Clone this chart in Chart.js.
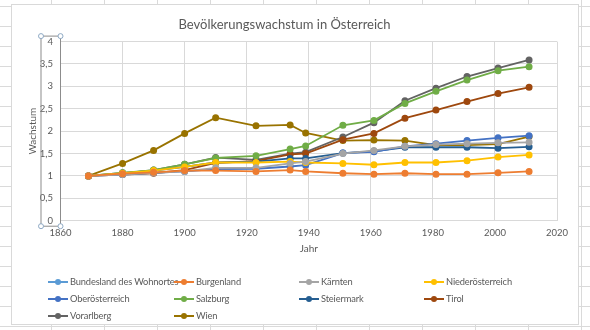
<!DOCTYPE html>
<html lang="de">
<head>
<meta charset="utf-8">
<title>Bevölkerungswachstum in Österreich</title>
<script src="https://cdn.jsdelivr.net/npm/chart.js@4.4.1/dist/chart.umd.min.js"></script>
<style>
    body {
        margin: 0;
        width: 590px;
        height: 330px;
        overflow: hidden;
        background-color: #ffffff;
        background-image: linear-gradient(#dadada 1px, transparent 1px), linear-gradient(90deg, #dadada 1px, transparent 1px);
        background-size: 53px 20px;
        background-position: -2px 6px;
        font-family: Lato, "Open Sans", sans-serif;
    }
    #chartBox {
        position: absolute;
        left: 12px;
        top: 5px;
        width: 566px;
        height: 319px;
        background: #ffffff;
        outline: 1px solid #d9d9d9;
    }
    #chartBox canvas {
        position: absolute;
        left: 0;
        top: 0;
    }
    #legende {
        position: absolute;
        left: 36px;
        top: 268px;
        display: grid;
        grid-template-columns: 126px 125px 125px 125px;
        grid-auto-rows: 17px;
        font-size: 9.3px;
        letter-spacing: -0.15px;
        color: #595959;
    }
    .item {
        display: flex;
        align-items: center;
        white-space: nowrap;
    }
    .swatch {
        position: relative;
        width: 20px;
        height: 2px;
        margin-right: 2px;
        flex: none;
    }
    .swatch span {
        position: absolute;
        left: 7px;
        top: -2px;
        width: 6px;
        height: 6px;
        border-radius: 50%;
    }
</style>
</head>
<body>
<div id="chartBox">
    <canvas id="graficaWachstum" width="566" height="319"></canvas>
    <div id="legende"></div>
</div>
<script>
const jahre = [1869, 1880, 1890, 1900, 1910, 1923, 1934, 1939, 1951, 1961, 1971, 1981, 1991, 2001, 2011];

const bundeslandDesWohnortes = [];
const burgenland = [1, 1.05, 1.08, 1.12, 1.12, 1.10, 1.13, 1.10, 1.06, 1.04, 1.06, 1.04, 1.04, 1.07, 1.10];
const kaernten = [1, 1.03, 1.07, 1.10, 1.18, 1.18, 1.28, 1.32, 1.50, 1.57, 1.66, 1.70, 1.72, 1.74, 1.75];
const niederoesterreich = [1, 1.06, 1.12, 1.20, 1.30, 1.30, 1.32, 1.30, 1.28, 1.25, 1.30, 1.30, 1.34, 1.42, 1.47];
const oberoesterreich = [1, 1.03, 1.07, 1.10, 1.15, 1.16, 1.21, 1.24, 1.51, 1.54, 1.66, 1.72, 1.79, 1.85, 1.90];
const salzburg = [1, 1.07, 1.13, 1.26, 1.40, 1.45, 1.60, 1.67, 2.13, 2.24, 2.62, 2.89, 3.14, 3.35, 3.44];
const steiermark = [1, 1.07, 1.12, 1.20, 1.30, 1.32, 1.39, 1.39, 1.51, 1.55, 1.64, 1.64, 1.64, 1.62, 1.65];
const tirol = [1, 1.03, 1.06, 1.13, 1.29, 1.33, 1.48, 1.50, 1.81, 1.95, 2.29, 2.47, 2.66, 2.84, 2.98];
const vorarlberg = [1, 1.05, 1.13, 1.26, 1.41, 1.36, 1.50, 1.53, 1.87, 2.19, 2.68, 2.96, 3.22, 3.41, 3.59];
const wien = [1, 1.28, 1.57, 1.95, 2.30, 2.12, 2.14, 1.96, 1.79, 1.80, 1.79, 1.69, 1.69, 1.71, 1.88];

const serien = [
    ["Bundesland des Wohnortes", bundeslandDesWohnortes, "#5b9bd5"],
    ["Burgenland", burgenland, "#ed7d31"],
    ["Kärnten", kaernten, "#a5a5a5"],
    ["Niederösterreich", niederoesterreich, "#ffc000"],
    ["Oberösterreich", oberoesterreich, "#4472c4"],
    ["Salzburg", salzburg, "#70ad47"],
    ["Steiermark", steiermark, "#255e91"],
    ["Tirol", tirol, "#9e480e"],
    ["Vorarlberg", vorarlberg, "#636363"],
    ["Wien", wien, "#997300"],
];

const xTicks = [1860, 1880, 1900, 1920, 1940, 1960, 1980, 2000, 2020];

const grau = "#595959";
const gitter = "#d9d9d9";

// markiert die ausgewählte Y-Achse wie in Excel
const achsenAuswahl = {
    id: "achsenAuswahl",
    afterDraw(chart) {
        const ctx = chart.ctx;
        const a = chart.chartArea;
        const l = a.left - 19.5, r = a.left, t = a.top - 5.5, b = a.bottom + 5.5;
        ctx.save();
        ctx.strokeStyle = "#8c8c8c";
        ctx.lineWidth = 1;
        ctx.strokeRect(l, t, r - l, b - t);
        [[l, t], [r, t], [l, b], [r, b]].forEach(([x, y]) => {
            ctx.beginPath();
            ctx.arc(x, y, 2.5, 0, Math.PI * 2);
            ctx.fillStyle = "#ffffff";
            ctx.fill();
            ctx.strokeStyle = "#8ea9c4";
            ctx.stroke();
        });
        ctx.restore();
    },
};

document.addEventListener("DOMContentLoaded", function () {
    const datasets = serien.map(([name, werte, farbe]) => ({
        label: name,
        data: werte.map((v, i) => ({x: jahre[i], y: v})),
        borderColor: farbe,
        backgroundColor: farbe,
        borderWidth: 1.8,
        pointRadius: 2.6,
        pointHoverRadius: 2.6,
        showLine: true,
    }));

    const config = {
        type: "scatter",
        data: {datasets: datasets},
        options: {
            responsive: false,
            animation: false,
            layout: {
                padding: {left: 0, right: 21, top: 0, bottom: 69},
            },
            plugins: {
                legend: {display: false},
                tooltip: {enabled: false},
                title: {
                    display: true,
                    text: "Bevölkerungswachstum in Österreich",
                    color: grau,
                    font: {size: 13, weight: "normal", family: "Lato, 'Open Sans', sans-serif", lineHeight: 1.2},
                    padding: {top: 12, bottom: 9},
                },
            },
            scales: {
                x: {
                    type: "linear",
                    min: 1860,
                    max: 2020,
                    afterBuildTicks: (scale) => {
                        scale.ticks = xTicks.map((v) => ({value: v}));
                    },
                    afterFit: (scale) => {
                        scale.height = 34.3;
                    },
                    grid: {color: gitter, drawTicks: false},
                    border: {display: false},
                    ticks: {
                        color: grau,
                        padding: 7,
                        maxRotation: 0,
                        font: {size: 9.5, family: "Lato, 'Open Sans', sans-serif"},
                        callback: (v) => String(v),
                    },
                    title: {
                        display: true,
                        text: "Jahr",
                        color: grau,
                        padding: {top: 0, bottom: 0},
                        font: {size: 10, family: "Lato, 'Open Sans', sans-serif", lineHeight: 1.2},
                    },
                },
                y: {
                    min: 0,
                    max: 4,
                    afterFit: (scale) => {
                        scale.width = 48.5;
                    },
                    grid: {color: gitter, drawTicks: false},
                    border: {display: false},
                    ticks: {
                        stepSize: 0.5,
                        color: grau,
                        padding: 7.5,
                        font: {size: 9.5, family: "Lato, 'Open Sans', sans-serif"},
                        callback: (v) => String(v).replace(".", ","),
                    },
                    title: {
                        display: true,
                        text: "Wachstum",
                        color: grau,
                        padding: {top: 15, bottom: 0},
                        font: {size: 10, family: "Lato, 'Open Sans', sans-serif", lineHeight: 1.2},
                    },
                },
            },
        },
        plugins: [achsenAuswahl],
    };

    const chart = new Chart(document.getElementById("graficaWachstum"), config);
    setLegende(chart);
});

function setLegende(chart) {
    const box = document.getElementById("legende");
    chart.data.datasets.forEach((ds) => {
        const item = document.createElement("div");
        item.className = "item";
        const swatch = document.createElement("div");
        swatch.className = "swatch";
        swatch.style.background = ds.borderColor;
        const punkt = document.createElement("span");
        punkt.style.background = ds.borderColor;
        swatch.appendChild(punkt);
        const text = document.createElement("div");
        text.innerText = ds.label;
        item.appendChild(swatch);
        item.appendChild(text);
        box.appendChild(item);
    });
}
</script>
</body>
</html>
